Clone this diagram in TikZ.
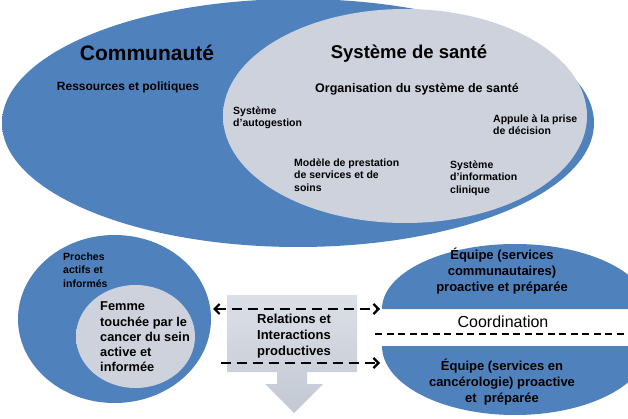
\documentclass[tikz,border=0pt]{standalone}
\usepackage{fontspec}
\setmainfont{Liberation Sans}
\usetikzlibrary{shapes.geometric,arrows.meta}
\definecolor{cblue}{HTML}{4F81BD}
\definecolor{cbluedark}{HTML}{3A679F}
\definecolor{cgray}{HTML}{CDD2DD}
\definecolor{cgraylight}{HTML}{F3F4F7}
\definecolor{boxtop}{HTML}{DCDFE6}
\definecolor{boxbot}{HTML}{C2C8D3}
\pgfdeclareradialshading{blueball}{\pgfpoint{0bp}{0bp}}{color(0bp)=(cblue); color(42bp)=(cblue); color(50bp)=(cbluedark); color(80bp)=(cbluedark)}
\pgfdeclareradialshading{grayball}{\pgfpoint{5bp}{-5bp}}{color(0bp)=(cgray); color(40bp)=(cgray); color(54bp)=(cgraylight); color(90bp)=(cgraylight)}
\tikzset{
  blob/.style={ellipse, inner sep=0pt, shade, shading=blueball},
  grayblob/.style={ellipse, inner sep=0pt, shade, shading=grayball},
  big/.style={font=\bfseries\fontsize{21}{24}\selectfont},
  sub/.style={font=\bfseries\fontsize{18.5}{22}\selectfont},
  small/.style={font=\bfseries\fontsize{10.5}{12.3}\selectfont, align=left, anchor=west, inner sep=0pt},
  mid/.style={font=\bfseries\fontsize{13}{16}\selectfont, align=center, inner sep=0pt},
  dasharrow/.style={line width=2.2pt, dash pattern=on 10pt off 6pt, -{Straight Barb[length=5pt,width=10pt]}},
}
\begin{document}
\begin{tikzpicture}[x=1pt,y=-1pt]
\useasboundingbox (0,0) rectangle (628,419);
% top ellipses
\node[blob, minimum width=592pt, minimum height=248pt] (comm) at (298,123) {};
\node[grayblob, minimum width=364pt, minimum height=214pt] (sys) at (405,116) {};
\node[big] (commt) at (147,53) {Communauté};
\node[sub] (syst) at (409,54) {Système de santé};
\node[font=\bfseries\fontsize{12}{14}\selectfont] (res) at (128,87) {Ressources et politiques};
\node[font=\bfseries\fontsize{12.5}{14}\selectfont] (org) at (417,89) {Organisation du système de santé};
\node[small] (auto) at (233,118) {Système\\d'autogestion};
\node[small] (dec) at (493,125) {Appule à la prise\\de décision};
\node[small] (mod) at (294,175) {Modèle de prestation\\de services et de\\soins};
\node[small] (info) at (450,178) {Système\\d'information\\clinique};
% left circles
\node[blob, minimum width=193pt, minimum height=168pt] (proches) at (114.5,319) {};
\node[grayblob, minimum width=119pt, minimum height=103pt] (femme) at (135.5,336.5) {};
\node[small, font=\bfseries\fontsize{10.5}{13.5}\selectfont] (prot) at (63,270) {Proches\\actifs et\\informés};
\node[small, font=\bfseries\fontsize{12.8}{15.3}\selectfont] (femt) at (100,337) {Femme\\touchée par le\\cancer du sein\\active et\\informée};
% right half ellipses
\fill[cblue] (382,309) arc[start angle=180, end angle=0, x radius=133pt, y radius=65pt] -- cycle;
\fill[cblue] (382,346) arc[start angle=180, end angle=360, x radius=133pt, y radius=69pt] -- cycle;
\node[mid] (eq1) at (502,271) {Équipe (services\\communautaires)\\proactive et préparée};
\node[mid] (eq2) at (502,382) {Équipe (services en\\cancérologie) proactive\\et\ \ préparée};
\node[font=\fontsize{16}{18}\selectfont, inner sep=0pt] (coord) at (503,322) {Coordination};
% central box arrow
\shade[top color=boxtop, bottom color=boxbot] (227,295) -- (357,295) -- (357,372) -- (307,372) -- (307,384) -- (323,384) -- (294,413) -- (265,384) -- (277,384) -- (277,372) -- (227,372) -- cycle;
\node[mid] (rel) at (294,336) {Relations et\\Interactions\\productives};
% connectors
\coordinate (a1) at (213,309);
\coordinate (a2) at (380,309);
\coordinate (b1) at (221,363);
\coordinate (b2) at (380,363);
\coordinate (c1) at (375,334);
\coordinate (c2) at (628,334);
\draw[dasharrow, {Straight Barb[length=5pt,width=10pt]}-{Straight Barb[length=5pt,width=10pt]}] (a1) -- (a2);
\draw[dasharrow] (b1) -- (b2);
\draw[line width=2.2pt, dash pattern=on 7pt off 4.5pt] (c1) -- (c2);
\end{tikzpicture}
\end{document}
